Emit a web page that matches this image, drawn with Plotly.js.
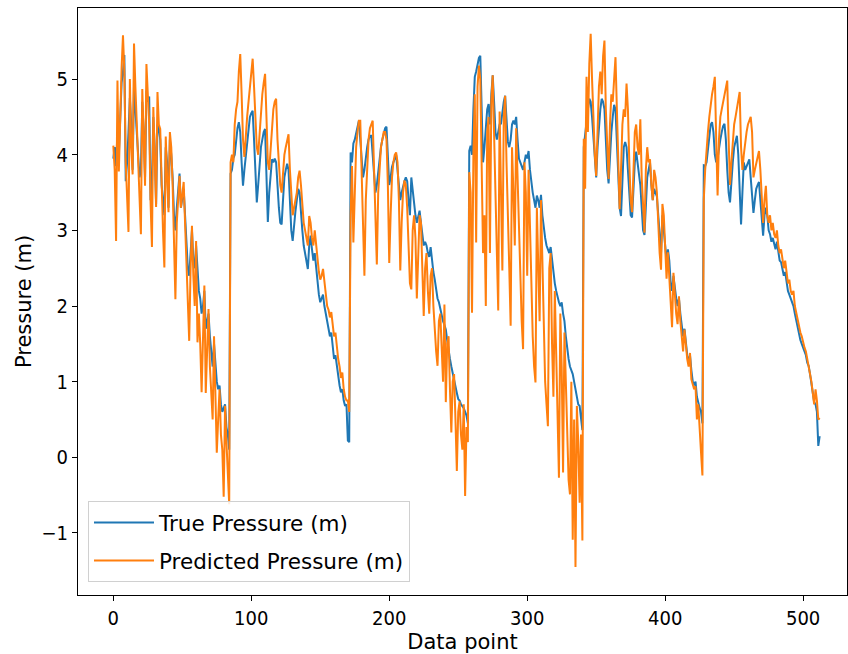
<!DOCTYPE html>
<html>
<head>
<meta charset="utf-8">
<script src="https://cdn.plot.ly/plotly-3.0.1.min.js"></script>
<style>html,body{margin:0;padding:0;background:#fff;}#chart{width:848px;height:654px;}</style>
</head>
<body>
<div id="chart"></div>
<script>
// True pressure, one array per cycle
const true1 = [3.95,4.10,3.85,4.30,4.00,4.50,4.95,5.10,5.32,3.65,
3.90,4.30,4.75,4.40,3.80,4.90,4.60,4.30,3.90,3.70,
3.80,4.70,4.30,3.70,4.85,4.70,4.77,3.40,3.60,4.50,
4.10,3.35,4.40,4.35,4.20,3.60,3.40,3.20,4.10,3.90,
3.30,4.20,4.00,3.70,3.20,3.00,3.30,3.60,3.75,3.30,
3.40,3.55,3.20,2.90,2.50,2.40,2.70,3.00,2.60,2.50,
2.80,2.40,2.20,2.10,1.90,2.00,2.20,1.70,1.80,1.90,
1.60,1.40,1.20,1.50,1.20,1.00,0.90,0.95,0.70,0.60,
0.65,0.70,0.40,0.30,0.10];
const true2 = [3.75,3.80,3.95,4.00,4.20,4.35,4.43,4.30,3.90,3.59,
3.80,4.00,4.20,4.40,4.50,4.55,4.58,4.20,3.70,3.37,
3.60,3.90,4.10,4.20,4.30,4.34,3.80,3.11,3.50,3.80,
3.94,3.90,3.95,3.90,3.50,3.30,3.10,3.08,3.40,3.70,
3.80,3.88,3.80,3.40,3.00,2.86,3.10,3.25,3.40,3.55,
3.50,3.20,3.00,2.80,2.70,2.55,2.49,2.80,2.93,2.75,
2.60,2.70,2.50,2.30,2.15,2.05,2.10,2.15,2.00,1.90,
1.80,1.70,1.60,1.65,1.45,1.30,1.35,1.20,1.05,0.95,
0.86,0.90,0.75,0.68,0.70,0.22,0.20];
const true3 = [4.03,3.90,4.15,4.20,4.30,4.40,4.45,4.20,3.90,3.70,
3.80,4.00,4.10,4.20,4.25,4.25,4.00,3.70,3.50,3.60,
3.80,4.00,4.10,4.20,4.30,4.35,4.37,3.90,3.60,3.70,
3.84,3.90,3.95,4.00,3.80,3.60,3.40,3.50,3.60,3.65,
3.70,3.65,3.40,3.20,3.70,3.50,3.30,3.20,3.10,3.20,
3.26,3.10,2.90,2.80,2.85,2.80,2.70,2.65,2.78,2.57,
2.45,2.35,2.20,2.10,2.05,1.95,1.90,1.80,1.75,1.69,
1.55,1.40,1.30,1.20,1.10,1.00,0.90,0.85,0.77,0.75,
0.70,0.68,0.65,0.60,0.55,0.45];
const true4 = [4.05,4.12,4.00,4.60,5.03,5.10,5.20,5.28,5.31,4.50,
3.90,4.10,4.40,4.60,4.67,4.40,4.80,5.05,4.70,4.30,
4.20,4.30,4.40,4.41,4.60,4.70,4.78,4.40,4.17,4.10,
4.20,4.40,4.45,4.40,4.50,4.20,3.95,3.90,3.85,3.80,
3.90,4.00,3.95,4.05,3.80,3.60,3.50,3.40,3.30,3.46,
3.40,3.30,3.47,3.20,3.00,2.90,2.80,2.75,2.70,2.78,
2.60,2.40,2.30,2.20,2.10,2.05,2.00,2.05,1.90,1.80,
1.60,1.40,1.30,1.20,1.16,1.10,1.00,0.90,0.80,0.70,
0.68,0.50,0.36];
const true5 = [4.10,4.30,4.41,4.60,4.74,4.70,4.50,4.20,3.90,3.70,
4.10,4.40,4.60,4.74,4.70,4.60,4.10,3.80,3.62,4.00,
4.30,4.50,4.66,4.60,4.20,3.60,3.30,3.19,3.80,4.10,
4.17,4.10,3.80,3.50,3.20,3.17,3.60,3.90,4.04,3.90,
3.70,3.60,3.30,3.00,2.94,3.40,3.70,3.80,3.90,3.60,
3.40,3.55,3.50,3.45,3.20,2.90,2.70,3.20,3.00,2.80,
2.60,2.75,2.60,2.30,2.20,2.40,2.20,2.10,2.00,2.10,
1.90,1.70,1.60,1.70,1.50,1.35,1.25,1.35,1.15,1.00,
0.95,1.00,0.80,0.70,0.65,0.60,0.45];
const true6 = [3.86,3.85,3.90,4.10,4.30,4.40,4.43,4.30,4.00,3.90,
3.95,4.10,4.20,4.30,4.38,4.41,4.20,3.80,3.50,3.37,
3.70,3.90,4.10,4.20,4.25,4.00,3.50,3.08,3.50,3.90,
3.80,3.85,3.90,3.94,3.70,3.40,3.23,3.40,3.55,3.60,
3.64,3.40,3.10,2.93,3.20,3.30,3.20,
3.00,2.95,2.85,2.90,2.80,2.75,2.85,2.70,2.60,2.58,
2.50,2.40,2.45,2.30,2.20,2.15,2.10,2.05,2.00,1.90,
1.80,1.75,1.65,1.55,1.50,1.45,1.40,1.35,1.25,1.21,
1.10,0.95,0.85,0.73,0.70,0.60,0.15,0.28];

// Predicted pressure, one array per cycle
const pred1 = [4.12,3.80,2.86,4.98,3.78,4.60,5.15,5.58,5.10,3.90,
3.40,2.98,5.00,4.10,3.74,5.47,4.90,4.39,3.80,3.30,
2.95,4.87,4.20,3.59,5.20,4.80,4.40,3.37,2.78,4.63,
4.00,3.31,4.83,4.40,4.34,3.55,3.00,2.51,4.24,3.70,
3.24,4.30,4.10,3.60,2.90,2.09,3.10,3.50,3.72,3.30,
3.50,3.64,3.10,2.60,2.00,1.54,2.50,3.06,2.40,2.00,
2.86,1.52,1.90,1.50,0.86,1.80,2.27,0.85,1.40,1.96,
1.20,0.90,0.50,1.60,0.90,0.06,0.50,0.90,0.30,0.10,
-0.52,0.68,0.20,-0.20,-0.62];
const pred2 = [3.90,4.00,3.90,4.40,4.60,4.70,5.10,5.33,4.80,4.20,
3.97,4.30,4.50,4.70,4.90,5.10,5.27,4.90,4.40,4.10,
4.00,4.30,4.60,4.80,4.95,5.07,4.50,3.90,3.80,4.10,
4.40,4.60,4.70,4.74,4.20,3.90,3.60,3.50,3.80,4.00,
4.10,4.20,4.27,3.80,3.40,3.20,3.30,3.40,3.50,3.70,
3.79,3.60,3.30,3.10,3.00,2.90,2.80,3.19,3.10,2.90,
2.80,3.00,2.80,2.60,2.45,2.35,2.40,2.49,2.30,2.10,
2.00,1.95,1.85,1.92,1.70,1.60,1.65,1.45,1.30,1.20,
1.05,1.12,0.90,0.80,0.75,0.75,0.60];
const pred3 = [3.20,3.85,2.84,3.50,4.10,4.30,4.45,4.45,3.80,3.10,
2.40,3.40,3.90,4.20,4.35,4.40,4.45,3.80,3.10,2.55,
3.50,3.90,4.10,4.20,4.30,4.30,4.20,3.60,2.57,3.20,
3.70,3.90,4.00,4.03,3.90,3.40,2.47,3.10,3.50,3.66,
3.60,3.30,2.70,2.30,2.22,3.00,3.20,2.90,2.10,2.60,
3.20,3.10,2.40,1.87,2.50,2.70,2.20,1.90,2.40,2.50,
2.00,1.60,1.40,1.21,1.80,1.90,1.50,1.00,2.02,0.73,
1.50,1.60,0.90,0.33,1.00,1.10,0.50,-0.18,0.60,0.74,
0.30,0.10,0.70,-0.51,0.40,0.20];
const pred4 = [3.77,3.50,1.91,4.00,4.80,2.84,4.90,5.18,5.00,3.50,
2.70,3.20,2.00,4.30,4.50,2.70,4.70,5.05,4.30,3.20,
2.60,1.94,4.57,3.60,2.47,4.50,4.78,3.90,3.00,2.50,
1.74,4.10,3.50,2.80,4.35,3.70,2.90,2.20,1.80,1.43,
3.90,3.50,2.40,3.80,3.00,2.20,1.60,1.20,0.99,3.30,
2.60,1.80,3.40,2.60,1.70,1.00,0.70,0.41,2.50,2.70,
1.50,0.80,2.20,1.30,0.40,-0.27,1.90,1.20,-0.20,1.65,
1.00,0.20,-0.30,-0.49,1.00,-1.09,0.50,-1.45,0.68,0.20,
-0.60,0.30,-1.10];
const pred5 = [4.21,3.55,5.03,4.30,5.20,5.60,5.00,4.40,4.00,3.72,
4.50,4.90,5.10,4.80,5.30,5.51,4.60,4.00,3.68,4.40,
4.80,4.70,5.00,5.29,4.60,3.80,3.28,3.80,4.40,4.60,
4.50,4.94,4.60,3.90,3.40,3.24,3.90,4.30,4.40,4.10,
4.00,4.47,3.70,3.20,2.97,3.80,4.10,3.90,3.94,3.60,
3.40,3.80,3.70,3.50,3.00,2.70,2.48,3.35,3.20,2.70,
2.36,2.71,2.40,2.00,1.72,2.44,2.10,1.90,1.76,2.13,
1.80,1.55,1.40,1.69,1.45,1.30,1.20,1.38,1.03,0.95,
0.90,0.94,0.50,0.70,0.30,0.06,-0.24];
const pred6 = [3.41,3.80,4.10,4.30,4.50,4.70,4.80,4.90,5.03,4.20,
3.46,4.20,4.50,4.60,4.70,4.80,4.90,4.98,4.20,3.60,
3.90,4.20,4.40,4.50,4.60,4.70,4.83,4.10,3.80,4.00,
4.20,4.30,4.40,4.45,4.50,4.30,3.70,3.80,3.90,4.00,
4.05,3.80,3.40,3.10,3.40,3.59,3.20,
3.10,3.20,3.00,3.10,2.95,2.90,3.00,2.80,2.70,2.75,
2.60,2.50,2.60,2.40,2.30,2.35,2.20,2.15,2.20,2.00,
1.90,1.85,1.70,1.65,1.60,1.50,1.45,1.40,1.30,1.25,
1.15,1.00,0.85,0.70,0.90,0.75,0.50,0.52];

const xTicks = [0, 100, 200, 300, 400, 500];
const yTicks = [-1, 0, 1, 2, 3, 4, 5];

const trueP = [].concat(true1, true2, true3, true4, true5, true6);
const predP = [].concat(pred1, pred2, pred3, pred4, pred5, pred6);

const FONT = 'DejaVu Sans, Liberation Sans, sans-serif';
const TICKFONT = 'DejaVu Sans Condensed, DejaVu Sans, sans-serif';

const traces = [
  {y: trueP, type: 'scatter', mode: 'lines', name: 'True Pressure (m)',
   legendgroup: 'a', line: {color: '#1f77b4', width: 2}},
  {y: predP, type: 'scatter', mode: 'lines', name: 'Predicted Pressure (m)',
   legendgroup: 'b', line: {color: '#ff7f0e', width: 2}}
];

const axisCommon = {
  showgrid: false, zeroline: false,
  showline: true, mirror: true, linecolor: '#000', linewidth: 1,
  ticks: 'outside', ticklen: 5, tickwidth: 1, tickcolor: '#000',
  tickfont: {family: TICKFONT, size: 20, color: '#000'}
};

const layout = {
  width: 848, height: 654,
  margin: {l: 78, r: 1, t: 8, b: 59},
  paper_bgcolor: '#fff', plot_bgcolor: '#fff',
  font: {family: FONT, color: '#000'},
  showlegend: true,
  xaxis: Object.assign({}, axisCommon, {
    range: [-25.6, 531.8],
    tickmode: 'array', tickvals: xTicks, ticktext: xTicks.map(String),
    title: {text: 'Data point', font: {family: FONT, size: 21, color: '#000'}, standoff: 2}
  }),
  yaxis: Object.assign({}, axisCommon, {
    range: [-1.82, 5.94],
    tickmode: 'array', tickvals: yTicks,
    ticktext: yTicks.map(v => v < 0 ? '\u2212' + Math.abs(v) : String(v)),
    title: {text: 'Pressure (m)', font: {family: FONT, size: 21, color: '#000'}, standoff: 4}
  }),
  legend: {
    x: 0.013, y: 0.022, xanchor: 'left', yanchor: 'bottom',
    bgcolor: 'rgba(255,255,255,0.85)', bordercolor: '#d0d0d0', borderwidth: 1,
    itemwidth: 60, tracegroupgap: 7,
    font: {family: FONT, size: 21.5, color: '#000'}
  }
};

Plotly.newPlot('chart', traces, layout, {staticPlot: true, displayModeBar: false});
</script>
</body>
</html>
